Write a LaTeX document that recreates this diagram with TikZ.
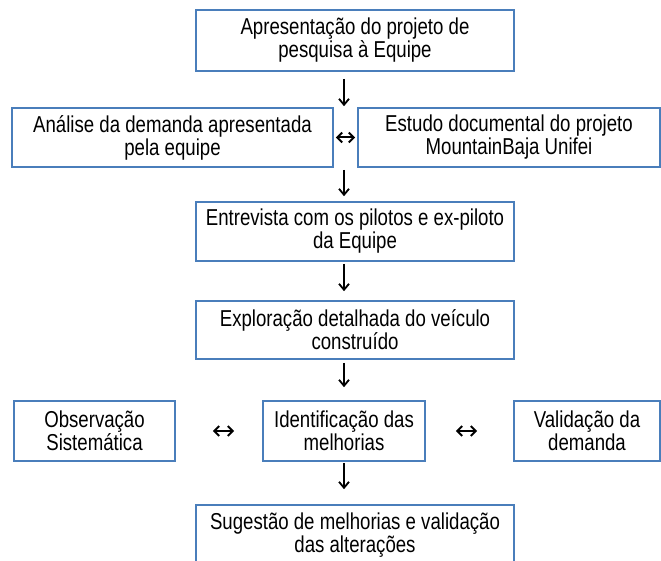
\documentclass[tikz,border=0pt]{standalone}
\usepackage{fontspec}
\setmainfont{Liberation Sans}[FakeStretch=0.81]
\usetikzlibrary{arrows.meta}
\definecolor{boxblue}{HTML}{4A7EBB}

\begin{document}
\begin{tikzpicture}[x=1pt, y=-1pt,
    box/.style = {draw=boxblue, line width=1.6pt, align=center, inner sep=0pt,
                  font=\fontsize{23}{23}\selectfont, minimum height=59pt},
    flow/.style = {line width=1.8pt, -{Straight Barb[length=6pt,width=10pt]}},
    both/.style = {line width=2pt, {Straight Barb[length=5pt,width=10pt]}-{Straight Barb[length=5pt,width=10pt]}}]
    \useasboundingbox (0,0) rectangle (661,561);
    \coordinate (axis) at (344,0);

    \node[box, minimum width=318pt, minimum height=61pt] (n_apres) at (355,40.5) {Apresentação do projeto de\\pesquisa à Equipe};
    \node[box, minimum width=321pt] (n_anal) at (172.5,137.5) {Análise da demanda apresentada\\pela equipe};
    \node[box, minimum width=302pt] (n_estudo) at (509,137.5) {Estudo documental do projeto\\MountainBaja Unifei};
    \node[box, minimum width=318pt] (n_entr) at (355,231.5) {Entrevista com os pilotos e ex-piloto\\da Equipe};
    \node[box, minimum width=318pt, minimum height=58pt] (n_expl) at (355,330) {Exploração detalhada do veículo\\construído};
    \node[box, minimum width=161pt, minimum height=60pt] (n_obs) at (94.5,431) {Observação\\Sistemática};
    \node[box, minimum width=162pt, minimum height=60pt] (n_ident) at (344,431) {Identificação das\\melhorias};
    \node[box, minimum width=146pt, minimum height=60pt] (n_valid) at (587,431) {Validação da\\demanda};
    \node[box, minimum width=318pt, minimum height=61pt] (n_sug) at (355,535.5) {Sugestão de melhorias e validação\\das alterações};

    \draw[flow, shorten <=7pt, shorten >=1pt] (n_apres.south -| axis) -- (n_anal.north -| axis);
    \draw[both, shorten <=2pt, shorten >=2pt] (n_anal) -- (n_estudo);
    \draw[flow, shorten <=2pt, shorten >=5pt] (n_anal.south -| axis) -- (n_entr.north -| axis);
    \draw[flow, shorten <=2pt, shorten >=9pt] (n_entr.south -| axis) -- (n_expl.north -| axis);
    \draw[flow, shorten <=3pt, shorten >=13pt] (n_expl.south -| axis) -- (n_ident.north -| axis);
    \draw[both, shorten <=37pt, shorten >=28pt] (n_obs) -- (n_ident);
    \draw[both, shorten <=30pt, shorten >=36pt] (n_ident) -- (n_valid);
    \draw[flow, shorten <=1pt, shorten >=15pt] (n_ident.south -| axis) -- (n_sug.north -| axis);
\end{tikzpicture}
\end{document}
